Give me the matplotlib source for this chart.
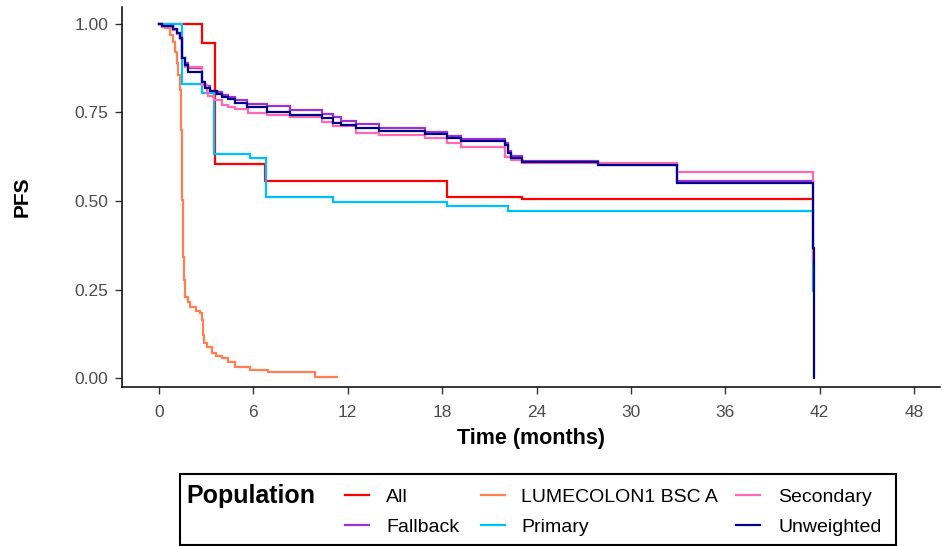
import matplotlib
matplotlib.use("Agg")
import matplotlib.pyplot as plt
from matplotlib.lines import Line2D
from matplotlib.patches import Rectangle

plt.rcParams["font.family"] = ["Liberation Sans", "DejaVu Sans"]

# Kaplan-Meier style PFS curves: event times (months) and survival after each event,
# plus the time of last follow-up for each population.
populations = ["All", "Fallback", "LUMECOLON1 BSC A", "Primary", "Secondary", "Unweighted"]
colors = ["#FF0000", "#9B30D9", "#FF7F50", "#00BFFF", "#FF69B4", "#00008B"]

all_t = [0, 2.73, 3.56, 6.74, 18.3, 23.1]
all_s = [1.0, 0.945, 0.605, 0.557, 0.51, 0.507]
all_end = 41.55

fallback_t = [0, 0.19, 0.89, 1.14, 1.33, 1.46, 1.65, 1.84, 2.73, 2.92, 3.24, 3.69, 4.0,
              4.39, 4.83, 5.6, 6.87, 8.3, 10.36, 11.06, 11.6, 12.5, 14.0, 16.9, 18.3,
              19.2, 22.0, 22.2, 22.4, 23.1, 27.9, 32.9]
fallback_s = [1.0, 0.994, 0.985, 0.975, 0.96, 0.905, 0.89, 0.876, 0.836, 0.824, 0.812,
              0.808, 0.80, 0.795, 0.785, 0.775, 0.768, 0.757, 0.745, 0.737, 0.726, 0.718,
              0.707, 0.695, 0.685, 0.675, 0.665, 0.64, 0.628, 0.612, 0.602, 0.556]
fallback_end = 41.55

bsc_t = [0, 0.19, 0.38, 0.70, 0.89, 1.02, 1.14, 1.21, 1.33, 1.40, 1.43, 1.46, 1.49, 1.53,
         1.59, 1.65, 1.84, 1.97, 2.35, 2.61, 2.73, 2.80, 2.86, 3.05, 3.37, 3.62, 4.0,
         4.39, 4.83, 5.79, 6.93, 9.92]
bsc_s = [1.0, 0.997, 0.989, 0.969, 0.949, 0.921, 0.89, 0.856, 0.814, 0.785, 0.70, 0.624,
         0.503, 0.342, 0.277, 0.229, 0.215, 0.20, 0.19, 0.184, 0.164, 0.121, 0.099, 0.088,
         0.071, 0.062, 0.056, 0.045, 0.031, 0.023, 0.017, 0.003]
bsc_end = 11.3

primary_t = [0, 1.46, 2.73, 3.49, 5.8, 6.8, 11.06, 18.3, 22.2, 41.55]
primary_s = [1.0, 0.83, 0.805, 0.633, 0.621, 0.511, 0.497, 0.487, 0.472, 0.245]
primary_end = 41.55

secondary_t = [0, 0.19, 0.89, 1.14, 1.33, 1.46, 1.65, 2.73, 3.05, 3.12, 3.43, 3.5, 4.0,
               4.39, 4.83, 5.66, 6.87, 8.3, 10.36, 11.06, 12.5, 14.0, 16.9, 18.3, 19.2,
               22.0, 22.4, 23.1, 32.9, 41.55]
secondary_s = [1.0, 0.992, 0.983, 0.973, 0.958, 0.905, 0.879, 0.828, 0.805, 0.797, 0.794,
               0.785, 0.771, 0.765, 0.76, 0.749, 0.743, 0.737, 0.723, 0.712, 0.692, 0.686,
               0.678, 0.663, 0.653, 0.625, 0.615, 0.607, 0.582, 0.33]
secondary_end = 41.55

unweighted_t = [0, 0.19, 0.89, 1.14, 1.33, 1.46, 1.65, 1.84, 2.73, 2.92, 3.24, 3.69, 4.0,
                4.39, 4.83, 5.6, 6.87, 8.3, 10.36, 11.06, 11.6, 12.5, 14.0, 16.9, 18.3,
                19.2, 22.0, 22.2, 22.4, 23.1, 27.9, 32.9, 41.55, 41.65]
unweighted_s = [1.0, 0.994, 0.985, 0.975, 0.96, 0.904, 0.884, 0.864, 0.836, 0.82, 0.81,
                0.803, 0.795, 0.787, 0.777, 0.766, 0.751, 0.743, 0.734, 0.72, 0.714, 0.706,
                0.698, 0.689, 0.678, 0.67, 0.658, 0.636, 0.621, 0.61, 0.602, 0.551, 0.367,
                0.0]
unweighted_end = 41.65

curves = [
    (all_t, all_s, all_end),
    (fallback_t, fallback_s, fallback_end),
    (bsc_t, bsc_s, bsc_end),
    (primary_t, primary_s, primary_end),
    (secondary_t, secondary_s, secondary_end),
    (unweighted_t, unweighted_s, unweighted_end),
]

x_ticks = [0, 6, 12, 18, 24, 30, 36, 42, 48]
y_ticks = [0.0, 0.25, 0.50, 0.75, 1.00]

W, H = 943, 546
fig = plt.figure(figsize=(W / 100, H / 100), dpi=100)


def fx(x):
    return x / W


def fy(y):
    return 1 - y / H


ax = fig.add_axes([fx(122), fy(387), fx(940) - fx(122), fy(7) - fy(387)])

for (t, s, end), col in zip(curves, colors):
    ax.step(list(t) + [end], list(s) + [s[-1]], where="post", color=col, lw=1.6,
            solid_joinstyle="miter")

ax.set_xlim(-2.35, 49.65)
ax.set_ylim(-0.0254, 1.048)
ax.set_xticks(x_ticks)
ax.set_yticks(y_ticks)
ax.set_xticklabels([str(v) for v in x_ticks])
ax.set_yticklabels([f"{v:.2f}" for v in y_ticks])
for side in ("top", "right"):
    ax.spines[side].set_visible(False)
for side in ("left", "bottom"):
    ax.spines[side].set_linewidth(1.1)
    ax.spines[side].set_color("black")
ax.tick_params(axis="both", length=5, width=1.0, color="#333333",
               labelsize=12.5, labelcolor="#4D4D4D")
ax.tick_params(axis="x", pad=8)
ax.tick_params(axis="y", pad=5)
ax.set_xlabel("Time (months)", fontsize=15.5, fontweight="bold", labelpad=6)
ax.set_ylabel("PFS", fontsize=15, fontweight="bold", labelpad=31)

# Legend box below the panel
fig.add_artist(Rectangle((fx(180), fy(545)), fx(896) - fx(180), fy(474) - fy(545),
                         transform=fig.transFigure, fill=False, edgecolor="black", lw=1.5))
fig.text(fx(186), fy(494), "Population", fontsize=18, fontweight="bold",
         va="center_baseline", ha="left")

key_x = [345, 481, 736]
key_len = 24
text_x = [386, 521, 778]
row_y = [495, 525]
for i, (name, col) in enumerate(zip(populations, colors)):
    c, r = i // 2, i % 2
    fig.add_artist(Line2D([fx(key_x[c]), fx(key_x[c] + key_len)], [fy(row_y[r])] * 2,
                          transform=fig.transFigure, color=col, lw=1.6))
    fig.text(fx(text_x[c]), fy(row_y[r]), name, fontsize=14, va="center_baseline",
             ha="left", color="black")

fig.savefig("out.png", dpi=100)
